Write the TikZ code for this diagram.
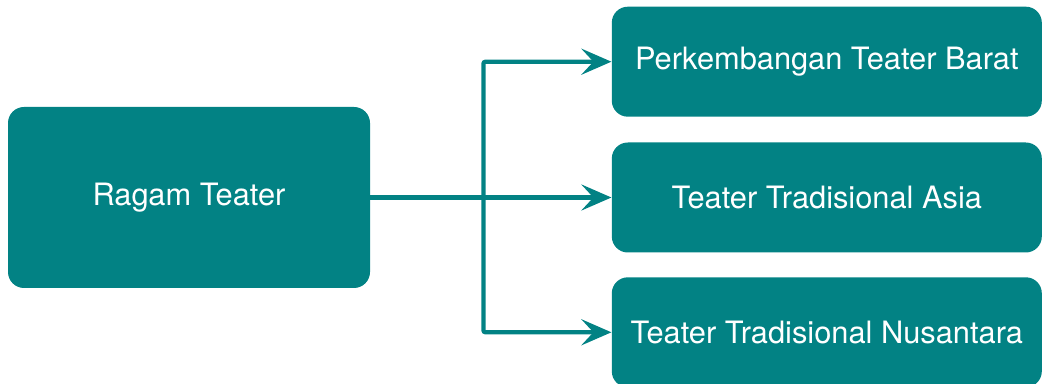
\documentclass[tikz,border=0pt]{standalone}
\usepackage{fontspec}
\setmainfont{TeX Gyre Heros}
\usetikzlibrary{positioning, calc, arrows.meta}
\definecolor{tealbox}{RGB}{2,130,132}
\tikzset{ragam/.style={rounded corners=8pt, fill=tealbox, text=white, inner sep=0pt, font=\fontsize{15.4}{18}\selectfont}}
\tikzset{cabang/.style={ragam, minimum width=215pt, minimum height=55pt}}
\tikzset{arr/.style={draw=tealbox, line width=2.1pt, -{Stealth[length=15pt, width=13pt, inset=6pt]}}}

\begin{document}
\begin{tikzpicture}[x=1pt,y=1pt]
	\useasboundingbox (0,0) rectangle (521,-192);
	\node[ragam, minimum width=181pt, minimum height=90.5pt] (RT) at (94.5,-98.75) {Ragam Teater};
	\node[cabang, right=120.5pt of RT] (TA) {Teater Tradisional Asia};
	\node[cabang, above=12.5pt of TA] (PB) {Perkembangan Teater Barat};
	\node[cabang, below=12pt of TA] (TN) {Teater Tradisional Nusantara};
	%
	\coordinate[right=56.5pt of RT.east] (J);
	\draw[arr] (RT) -- (TA);
	\draw[arr, rounded corners=1pt] (J) |- (PB);
	\draw[arr, rounded corners=1pt] (J) |- (TN);
\end{tikzpicture}
\end{document}
